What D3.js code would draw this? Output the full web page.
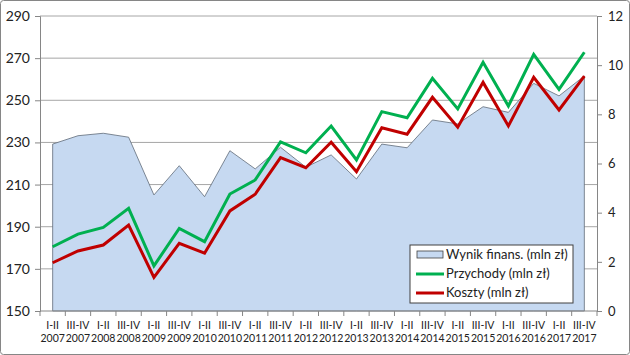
<!DOCTYPE html>
<html>
<head>
<meta charset="utf-8">
<script src="https://cdn.jsdelivr.net/npm/d3@7"></script>
<style>
  html, body { margin: 0; padding: 0; background: #fff; overflow: hidden; }
  svg { display: block; }
  svg text { font-family: Lato, "Noto Sans", sans-serif; fill: #222; }
</style>
</head>
<body>
<div id="chart"></div>
<script>
// Categories (half-years)
const periods = ['I-II', 'III-IV'];
const years = [2007, 2008, 2009, 2010, 2011, 2012, 2013, 2014, 2015, 2016, 2017];
const categories = years.flatMap(y => periods.map(p => p + '|' + y));

// Wynik finansowy (right axis, mln zl)
const wynik = [6.79, 7.13, 7.23, 7.07, 4.72, 5.91, 4.65, 6.52, 5.78, 6.66, 5.85,
               6.35, 5.37, 6.79, 6.64, 7.77, 7.61, 8.31, 8.08, 9.26, 8.75, 9.56];
// Przychody (left axis, mln zl)
const przychody = [180.5, 186.5, 189.7, 198.7, 171.4, 189.2, 182.9, 205.5, 212.2, 230.3, 225.1,
                   237.8, 221.7, 244.6, 241.7, 260.4, 245.9, 268.0, 247.3, 271.8, 255.2, 272.8];
// Koszty (left axis, mln zl)
const koszty = [172.9, 178.5, 181.3, 190.8, 166.0, 182.1, 177.4, 197.5, 205.4, 222.8, 218.0,
                230.1, 216.1, 237.0, 233.9, 251.4, 237.2, 258.5, 237.8, 260.9, 245.4, 261.5];

const leftTicks = [150, 170, 190, 210, 230, 250, 270, 290];
const rightTicks = [0, 2, 4, 6, 8, 10, 12];

const width = 630, height = 355;
const margins = { top: 16, right: 33, bottom: 44, left: 40 };
const innerWidth = width - margins.left - margins.right;
const innerHeight = height - margins.top - margins.bottom;

const svg = d3.select('#chart').append('svg')
    .attr('width', width)
    .attr('height', height);

// outer border
svg.append('rect')
    .attr('x', 0.5).attr('y', 0.5)
    .attr('width', width - 1).attr('height', height - 1)
    .attr('rx', 3)
    .attr('fill', '#fff')
    .attr('stroke', '#868686');

const g = svg.append('g')
    .attr('transform', `translate(${margins.left},${margins.top})`);

const x = d3.scaleBand().domain(categories).range([0, innerWidth]);
const cx = c => x(c) + x.bandwidth() / 2;
const yL = d3.scaleLinear().domain([150, 290]).range([innerHeight, 0]);
const yR = d3.scaleLinear().domain([0, 12]).range([innerHeight, 0]);

// gridlines
g.append('g')
    .selectAll('line')
    .data(leftTicks.slice(1))
    .enter().append('line')
    .attr('x1', 0).attr('x2', innerWidth)
    .attr('y1', d => yL(d)).attr('y2', d => yL(d))
    .attr('stroke', '#a6a6a6')
    .attr('stroke-width', 1);

// area (right axis)
const area = d3.area()
    .x((d, i) => cx(categories[i]))
    .y0(innerHeight)
    .y1(d => yR(d));

g.append('path')
    .datum(wynik)
    .attr('d', area)
    .attr('fill', '#c6d9f1')
    .attr('stroke', '#5f6b78')
    .attr('stroke-width', 0.8);

// lines (left axis)
const line = d3.line()
    .x((d, i) => cx(categories[i]))
    .y(d => yL(d));

g.append('path')
    .datum(przychody)
    .attr('d', line)
    .attr('fill', 'none')
    .attr('stroke', '#00b050')
    .attr('stroke-width', 3);

g.append('path')
    .datum(koszty)
    .attr('d', line)
    .attr('fill', 'none')
    .attr('stroke', '#c00000')
    .attr('stroke-width', 3);

// left axis
const leftAxis = g.append('g')
    .call(d3.axisLeft(yL).tickValues(leftTicks).tickSize(5).tickPadding(5));
leftAxis.select('.domain').attr('stroke', '#868686');
leftAxis.selectAll('.tick line').attr('stroke', '#868686');
leftAxis.selectAll('text').style('font-size', '14px').attr('fill', '#222');

// right axis
const rightAxis = g.append('g')
    .attr('transform', `translate(${innerWidth},0)`)
    .call(d3.axisRight(yR).tickValues(rightTicks).tickSize(5).tickPadding(6));
rightAxis.select('.domain').attr('stroke', '#868686');
rightAxis.selectAll('.tick line').attr('stroke', '#868686');
rightAxis.selectAll('text').style('font-size', '13px').attr('fill', '#222');

// bottom axis
const bottom = g.append('g')
    .attr('transform', `translate(0,${innerHeight})`);
bottom.append('line')
    .attr('x1', 0).attr('x2', innerWidth)
    .attr('stroke', '#868686');
bottom.selectAll('.tk')
    .data(categories.concat(['end']))
    .enter().append('line')
    .attr('x1', (d, i) => i * x.step()).attr('x2', (d, i) => i * x.step())
    .attr('y1', 0).attr('y2', 5)
    .attr('stroke', '#868686');
bottom.selectAll('.lbl1')
    .data(categories)
    .enter().append('text')
    .attr('x', d => cx(d))
    .attr('y', 18)
    .attr('text-anchor', 'middle')
    .style('font-size', '10.5px')
    .text(d => d.split('|')[0]);
bottom.selectAll('.lbl2')
    .data(categories)
    .enter().append('text')
    .attr('x', d => cx(d))
    .attr('y', 31)
    .attr('text-anchor', 'middle')
    .style('font-size', '10.5px')
    .text(d => d.split('|')[1]);

// legend
const legend = svg.append('g').attr('transform', 'translate(410,245)');
legend.append('rect')
    .attr('width', 163).attr('height', 58)
    .attr('fill', '#fff')
    .attr('stroke', '#404040');
legend.append('rect')
    .attr('x', 7).attr('y', 6).attr('width', 26).attr('height', 7)
    .attr('fill', '#c6d9f1').attr('stroke', '#404040').attr('stroke-width', 0.8);
legend.append('line')
    .attr('x1', 6).attr('x2', 34).attr('y1', 29).attr('y2', 29)
    .attr('stroke', '#00b050').attr('stroke-width', 3);
legend.append('line')
    .attr('x1', 6).attr('x2', 34).attr('y1', 48).attr('y2', 48)
    .attr('stroke', '#c00000').attr('stroke-width', 3);
const legendNames = ['Wynik finans. (mln zł)', 'Przychody (mln zł)', 'Koszty (mln zł)'];
legend.selectAll('.lt')
    .data(legendNames)
    .enter().append('text')
    .attr('x', 36)
    .attr('y', (d, i) => 14 + i * 19)
    .style('font-size', '13px')
    .text(d => d);
</script>
</body>
</html>
